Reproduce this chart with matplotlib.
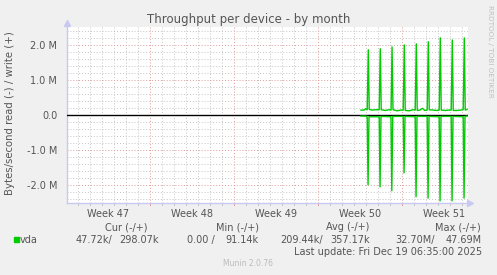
import matplotlib
matplotlib.use("Agg")
import matplotlib.pyplot as plt
import numpy as np

# ---- data (days since Monday of Week 47; values in MB/s) ----
week_labels = ["Week 47", "Week 48", "Week 49", "Week 50", "Week 51"]
yticks_vals = [-2.0, -1.0, 0.0, 1.0, 2.0]
ytick_labels = ["-2.0 M", "-1.0 M", "0.0", "1.0 M", "2.0 M"]

write_t = [24.58, 24.85, 24.95, 25.10, 25.19, 25.27, 25.5, 25.8, 26.10, 26.19, 26.27,
           26.6, 26.9, 27.09, 27.17, 27.25, 27.6, 27.9, 28.10, 28.19, 28.27, 28.6,
           28.9, 29.10, 29.19, 29.27, 29.5, 29.7, 29.9, 30.10, 30.19, 30.27, 30.6,
           30.9, 31.10, 31.19, 31.27, 31.6, 31.9, 32.10, 32.19, 32.27, 32.6, 32.9,
           33.10, 33.19, 33.27, 33.42]
write_v = [0.14, 0.14, 0.18, 0.15, 1.86, 0.16, 0.14, 0.15, 0.15, 1.89, 0.15,
           0.13, 0.15, 0.14, 1.94, 0.15, 0.12, 0.14, 0.14, 2.00, 0.13, 0.12,
           0.15, 0.14, 2.03, 0.13, 0.14, 0.19, 0.13, 0.14, 2.09, 0.15, 0.14,
           0.13, 0.14, 2.20, 0.14, 0.13, 0.14, 0.14, 2.14, 0.13, 0.13, 0.14,
           0.15, 2.20, 0.14, 0.16]

read_t = [24.58, 25.0, 25.10, 25.17, 25.25, 26.10, 26.17, 26.25, 27.08, 27.15, 27.23,
          28.10, 28.17, 28.25, 29.10, 29.17, 29.25, 30.10, 30.17, 30.25, 31.10,
          31.17, 31.25, 32.10, 32.17, 32.25, 33.10, 33.17, 33.25, 33.42]
read_v = [0.03, 0.03, 0.06, 1.99, 0.05, 0.05, 2.05, 0.04, 0.05, 2.16, 0.04,
          0.04, 1.65, 0.04, 0.05, 2.33, 0.04, 0.04, 2.37, 0.04, 0.05,
          2.45, 0.04, 0.04, 2.45, 0.04, 0.05, 2.37, 0.04, 0.03]

legend_cols = ["Cur (-/+)", "Min (-/+)", "Avg (-/+)", "Max (-/+)"]
legend_vals = ["47.72k/", "298.07k", "0.00 /", "91.14k", "209.44k/", "357.17k",
               "32.70M/", "47.69M"]

# ---- figure ----
W, H = 497, 275
BG = "#f0f0f0"
TXT = "#555555"
GREEN = "#00cc00"
AXC = "#c8c8f0"
MINC = "#c4c4c4"
MAJC = "#e09a9a"
fig = plt.figure(figsize=(W / 100, H / 100), dpi=100, facecolor=BG)

L, R, T, B = 67, 468, 27, 203
ax = fig.add_axes([L / W, 1 - B / H, (R - L) / W, (B - T) / H])
ax.set_facecolor("white")
ax.set_xlim(0.08, 33.5)
ax.set_ylim(-2.51, 2.51)

# grid
for d in range(1, 34):
    major = d % 7 == 0
    ax.axvline(d, color=MAJC if major else MINC, lw=0.7, ls=(0, (1, 2)), zorder=1)
    ax.plot([d, d], [0, -0.012], color=MAJC if major else MINC, lw=0.7,
            transform=ax.get_xaxis_transform(), clip_on=False, zorder=1)
for v in np.arange(-2.4, 2.45, 0.2):
    vv = round(v, 1)
    major = abs(vv - round(vv)) < 1e-6 and vv != 0
    ax.axhline(vv, color=MAJC if major else MINC, lw=0.7, ls=(0, (1, 2)), zorder=1)

ax.axhline(0, color="black", lw=1.0, zorder=3)
ax.plot(write_t, write_v, color=GREEN, lw=1.0, zorder=4)
ax.plot(read_t, [-v for v in read_v], color=GREEN, lw=1.0, zorder=4)

for s in ["top", "right"]:
    ax.spines[s].set_visible(False)
for s in ["left", "bottom"]:
    ax.spines[s].set_color(AXC)
    ax.spines[s].set_linewidth(1.0)
ax.plot([0], [1.02], marker="^", color=AXC, ms=4, transform=ax.transAxes, clip_on=False)
ax.plot([1.005], [0], marker=">", color=AXC, ms=4, transform=ax.transAxes, clip_on=False)

ax.set_yticks(yticks_vals)
ax.set_yticklabels(ytick_labels)
ax.set_xticks([3.5 + 7 * i for i in range(len(week_labels))])
ax.set_xticklabels(week_labels)
ax.tick_params(axis="both", length=0, labelsize=7, labelcolor=TXT, pad=7)
ax.tick_params(axis="x", pad=4)

def ft(x, y, s, **kw):
    kw.setdefault("color", TXT)
    kw.setdefault("fontsize", 7)
    fig.text(x / W, 1 - y / H, s, va="center", **kw)

ft(248.5, 20, "Throughput per device - by month", ha="center", fontsize=8.5)
ft(10, 113, "Bytes/second read (-) / write (+)", ha="center", rotation=90, fontsize=7.3)
ft(490, 51, "RRDTOOL / TOBI OETIKER", ha="center", rotation=270, fontsize=5.2, color="#c0c0c0")

ft(126, 227, legend_cols[0], ha="center")
ft(237, 227, legend_cols[1], ha="center")
ft(348, 227, legend_cols[2], ha="center")
ft(481, 227, legend_cols[3], ha="right")

fig.patches.append(plt.Rectangle((14 / W, 1 - 242 / H), 5 / W, 5 / H,
                                 transform=fig.transFigure, color=GREEN))
ft(20, 240, "vda", ha="left")
rights = [112, 159, 215, 259, 323, 370, 435, 482]
for xr, s in zip(rights, legend_vals):
    ft(xr, 240, s, ha="right")
ft(482, 252, "Last update: Fri Dec 19 06:35:00 2025", ha="right")
ft(248, 263, "Munin 2.0.76", ha="center", fontsize=5.5, color="#bbbbbb")

fig.savefig("out.png", dpi=100, facecolor=BG)
